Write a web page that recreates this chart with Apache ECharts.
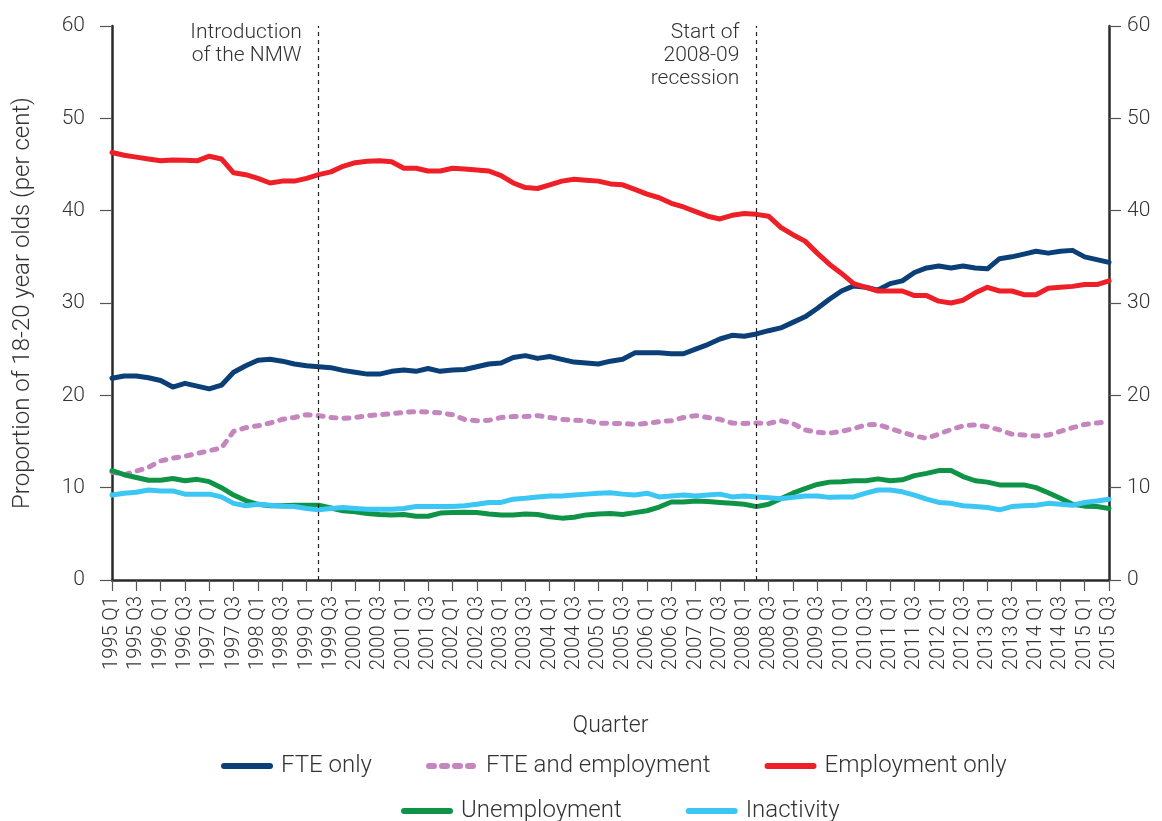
<!DOCTYPE html>
<html>
<head>
<meta charset="utf-8">
<script src="https://cdn.jsdelivr.net/npm/echarts@6/dist/echarts.min.js"></script>
<style>
  html, body { margin: 0; padding: 0; background: #fff; }
  #chart { width: 1162px; height: 821px; }
</style>
</head>
<body>
<div id="chart"></div>
<script>
// Quarterly labels, 1995 Q1 to 2015 Q3
const years = [1995, 1996, 1997, 1998, 1999, 2000, 2001, 2002, 2003, 2004,
  2005, 2006, 2007, 2008, 2009, 2010, 2011, 2012, 2013, 2014, 2015];
const quarters = ['Q1', 'Q2', 'Q3', 'Q4'];
const categories = [];
years.forEach(y => quarters.forEach(q => {
  if (!(y === 2015 && q === 'Q4')) categories.push(y + ' ' + q);
}));

// Share of 18-20 year olds in each activity (per cent)
const fteOnly = [21.85, 22.1, 22.1, 21.9, 21.6, 20.9, 21.3, 21.0, 20.7, 21.1,
  22.5, 23.2, 23.8, 23.9, 23.7, 23.4, 23.2, 23.1, 23.0, 22.7,
  22.5, 22.3, 22.3, 22.6, 22.75, 22.6, 22.9, 22.6, 22.75, 22.8,
  23.1, 23.4, 23.5, 24.1, 24.3, 24.0, 24.2, 23.9, 23.6, 23.5,
  23.4, 23.7, 23.9, 24.6, 24.6, 24.6, 24.5, 24.5, 25.0, 25.5,
  26.1, 26.5, 26.4, 26.65, 27.0, 27.3, 27.9, 28.5, 29.4, 30.4,
  31.3, 31.85, 31.7, 31.4, 32.1, 32.4, 33.3, 33.8, 34.0, 33.8,
  34.0, 33.8, 33.7, 34.8, 35.0, 35.3, 35.6, 35.4, 35.6, 35.7,
  35.0, 34.7, 34.4];

const fteAndEmployment = [11.7, 11.4, 11.8, 12.2, 12.9, 13.2, 13.4, 13.7, 14.0, 14.3,
  16.1, 16.5, 16.7, 17.0, 17.4, 17.6, 17.9, 17.8, 17.6, 17.5,
  17.6, 17.8, 17.9, 18.0, 18.15, 18.25, 18.2, 18.1, 17.9, 17.4,
  17.25, 17.3, 17.6, 17.7, 17.7, 17.8, 17.6, 17.4, 17.3, 17.25,
  17.0, 16.95, 16.95, 16.85, 16.95, 17.15, 17.25, 17.6, 17.8, 17.6,
  17.4, 17.0, 16.95, 17.0, 16.95, 17.25, 16.95, 16.25, 16.0, 15.9,
  16.1, 16.4, 16.8, 16.85, 16.4, 16.0, 15.6, 15.35, 15.8, 16.3,
  16.7, 16.8, 16.6, 16.25, 15.8, 15.7, 15.6, 15.7, 16.1, 16.5,
  16.85, 17.0, 17.15];

const employmentOnly = [46.3, 46.0, 45.8, 45.6, 45.4, 45.5, 45.45, 45.4, 45.9, 45.6,
  44.1, 43.9, 43.5, 43.0, 43.2, 43.2, 43.5, 43.9, 44.2, 44.8,
  45.2, 45.35, 45.4, 45.3, 44.6, 44.6, 44.3, 44.3, 44.6, 44.5,
  44.4, 44.3, 43.8, 43.0, 42.5, 42.4, 42.8, 43.2, 43.4, 43.3,
  43.2, 42.9, 42.8, 42.3, 41.8, 41.4, 40.8, 40.4, 39.9, 39.4,
  39.1, 39.5, 39.7, 39.6, 39.4, 38.2, 37.4, 36.7, 35.4, 34.2,
  33.2, 32.1, 31.7, 31.3, 31.3, 31.3, 30.8, 30.8, 30.2, 30.0,
  30.3, 31.1, 31.7, 31.3, 31.3, 30.9, 30.9, 31.6, 31.7, 31.8,
  32.0, 32.0, 32.4];

const unemployment = [11.85, 11.4, 11.1, 10.8, 10.8, 11.0, 10.75, 10.9, 10.65, 10.0,
  9.2, 8.6, 8.2, 8.05, 8.05, 8.1, 8.1, 8.1, 7.8, 7.5,
  7.4, 7.2, 7.1, 7.05, 7.1, 6.9, 6.9, 7.25, 7.3, 7.35,
  7.3, 7.15, 7.05, 7.05, 7.15, 7.1, 6.85, 6.7, 6.8, 7.05,
  7.15, 7.2, 7.1, 7.3, 7.5, 7.9, 8.45, 8.45, 8.55, 8.5,
  8.4, 8.3, 8.2, 7.95, 8.2, 8.8, 9.4, 9.9, 10.35, 10.6,
  10.65, 10.75, 10.75, 10.95, 10.75, 10.85, 11.3, 11.55, 11.85, 11.85,
  11.2, 10.75, 10.6, 10.3, 10.3, 10.3, 10.0, 9.45, 8.85, 8.2,
  8.0, 7.95, 7.75];

const inactivity = [9.2, 9.4, 9.5, 9.75, 9.65, 9.65, 9.3, 9.3, 9.3, 9.0,
  8.3, 8.05, 8.2, 8.1, 8.0, 7.95, 7.75, 7.6, 7.75, 7.85,
  7.75, 7.65, 7.65, 7.65, 7.75, 7.95, 7.95, 7.95, 7.95, 8.05,
  8.2, 8.4, 8.4, 8.75, 8.85, 9.0, 9.1, 9.1, 9.2, 9.3,
  9.4, 9.45, 9.3, 9.2, 9.4, 9.0, 9.1, 9.2, 9.1, 9.2,
  9.3, 9.0, 9.1, 9.0, 8.9, 8.8, 8.95, 9.1, 9.1, 8.95,
  9.0, 9.0, 9.4, 9.75, 9.75, 9.55, 9.2, 8.75, 8.4, 8.3,
  8.05, 7.95, 7.85, 7.6, 7.95, 8.05, 8.1, 8.3, 8.2, 8.1,
  8.4, 8.55, 8.75];

// Marked events
const events = [
  { at: '1999 Q2', text: 'Introduction\nof the NMW' },
  { at: '2008 Q2', text: 'Start of\n2008-09\nrecession' }
];

const yTicks = { min: 0, max: 60, interval: 10 };

const FONT = 'Roboto';
const WEIGHT = 300;
const TEXT = '#333333';
const AXIS = '#2a2a2a';

const chart = echarts.init(document.getElementById('chart'));

function lineSeries(name, data, color, dashed) {
  return {
    name: name,
    type: 'line',
    data: data,
    symbol: 'none',
    smooth: false,
    lineStyle: {
      color: color,
      width: 5,
      type: dashed ? [5, 8] : 'solid',
      cap: 'round',
      join: 'round'
    },
    itemStyle: { color: color },
    z: 3
  };
}

const series = [
  lineSeries('FTE only', fteOnly, '#0b3f78', false),
  lineSeries('FTE and employment', fteAndEmployment, '#c585bf', true),
  lineSeries('Employment only', employmentOnly, '#ee1f26', false),
  lineSeries('Unemployment', unemployment, '#0f9447', false),
  lineSeries('Inactivity', inactivity, '#3cc6f4', false)
];

// Event lines and their captions
series.push({
  name: 'events',
  type: 'line',
  data: [],
  silent: true,
  z: 2,
  markLine: {
    symbol: ['none', 'none'],
    silent: true,
    label: { show: false },
    lineStyle: { color: '#222', width: 1.2, type: [4, 4] },
    data: events.map(e => ({ xAxis: e.at }))
  },
  markPoint: {
    symbol: 'circle',
    symbolSize: 0,
    silent: true,
    label: {
      show: true,
      position: 'left',
      distance: 17,
      align: 'right',
      verticalAlign: 'top',
      offset: [0, -5],
      fontFamily: FONT,
      fontWeight: WEIGHT,
      fontSize: 21,
      lineHeight: 23,
      color: TEXT,
      formatter: p => p.data.text
    },
    data: events.map(e => ({ coord: [e.at, yTicks.max], text: e.text }))
  }
});

const yAxisBase = {
  type: 'value',
  min: yTicks.min,
  max: yTicks.max,
  interval: yTicks.interval,
  axisLine: { show: true, lineStyle: { color: AXIS, width: 2.5 } },
  axisTick: { show: true, length: 12, lineStyle: { color: '#555', width: 1.2 } },
  splitLine: { show: false }
};

const legendBase = {
  itemWidth: 46,
  itemHeight: 14,
  itemStyle: { opacity: 0 },
  lineStyle: { width: 6, cap: 'round' },
  textStyle: {
    fontFamily: FONT, fontWeight: WEIGHT, fontSize: 24, color: TEXT,
    padding: [0, 0, 0, 6]
  }
};

chart.setOption({
  animation: false,
  backgroundColor: '#ffffff',
  grid: { left: 112, right: 53, top: 26, bottom: 241, containLabel: false },
  xAxis: {
    type: 'category',
    data: categories,
    boundaryGap: false,
    name: 'Quarter',
    nameLocation: 'middle',
    nameGap: 135,
    nameTextStyle: { fontFamily: FONT, fontWeight: WEIGHT, fontSize: 23, color: TEXT },
    axisLine: { show: true, lineStyle: { color: AXIS, width: 2.5 } },
    axisTick: { show: true, interval: 1, length: 11, lineStyle: { color: '#555', width: 1.2 } },
    axisLabel: {
      interval: 1,
      rotate: 90,
      fontFamily: FONT,
      fontWeight: WEIGHT,
      fontSize: 20,
      color: TEXT,
      margin: 16
    },
    splitLine: { show: false }
  },
  yAxis: [
    Object.assign({}, yAxisBase, {
      position: 'left',
      name: 'Proportion of 18-20 year olds (per cent)',
      nameLocation: 'middle',
      nameGap: 77,
      nameTextStyle: { fontFamily: FONT, fontWeight: WEIGHT, fontSize: 24, color: TEXT },
      axisLabel: { fontFamily: FONT, fontWeight: WEIGHT, fontSize: 21, color: TEXT, margin: 27 }
    }),
    Object.assign({}, yAxisBase, {
      position: 'right',
      axisLabel: { fontFamily: FONT, fontWeight: WEIGHT, fontSize: 21, color: TEXT, margin: 18 }
    })
  ],
  legend: [
    Object.assign({}, legendBase, {
      data: ['FTE only', 'FTE and employment', 'Employment only'],
      left: 216,
      top: 749,
      itemGap: 54
    }),
    Object.assign({}, legendBase, {
      data: ['Unemployment', 'Inactivity'],
      left: 396,
      top: 794,
      itemGap: 64
    })
  ],
  series: series
});
</script>
</body>
</html>
